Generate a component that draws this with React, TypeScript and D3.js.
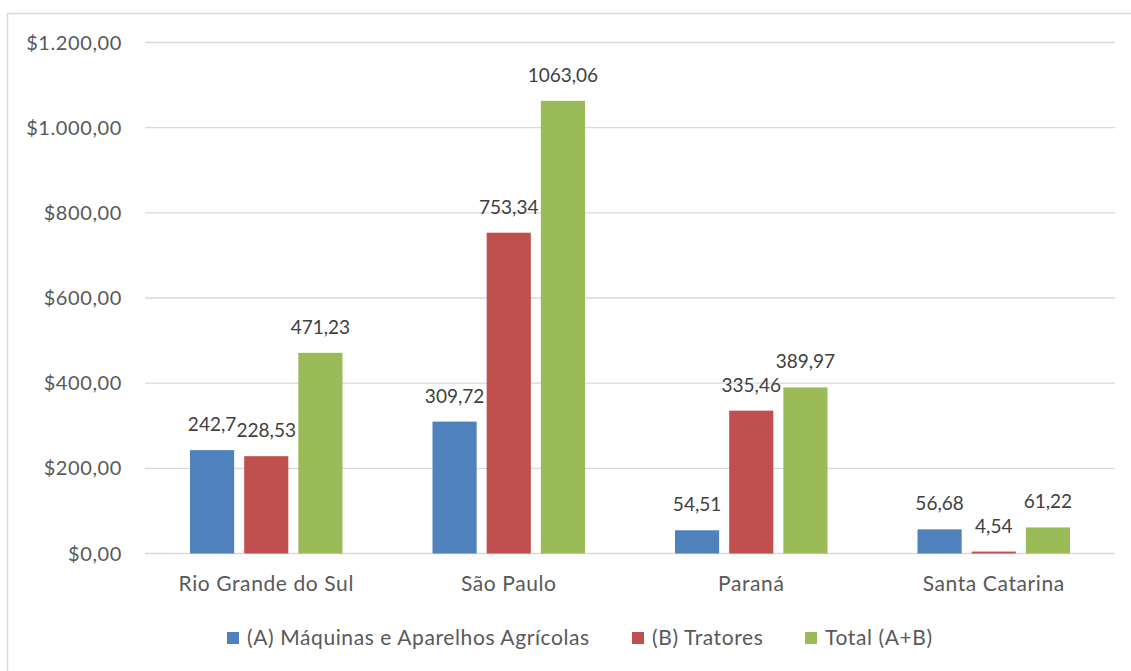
import React from "react";
import * as d3 from "d3";

const categories = ["Rio Grande do Sul", "São Paulo", "Paraná", "Santa Catarina"];
const seriesNames = ["(A) Máquinas e Aparelhos Agrícolas", "(B) Tratores", "Total (A+B)"];
const seriesA = [242.7, 309.72, 54.51, 56.68];
const seriesB = [228.53, 753.34, 335.46, 4.54];
const seriesTotal = [471.23, 1063.06, 389.97, 61.22];
const seriesLabelsA = ["242,7", "309,72", "54,51", "56,68"];
const seriesLabelsB = ["228,53", "753,34", "335,46", "4,54"];
const seriesLabelsTotal = ["471,23", "1063,06", "389,97", "61,22"];
const yTicks = [0, 200, 400, 600, 800, 1000, 1200];
const yTickLabels = ["$0,00", "$200,00", "$400,00", "$600,00", "$800,00", "$1.000,00", "$1.200,00"];
const colors = ["#4F81BD", "#C0504D", "#9BBB59"];

const W = 1131;
const H = 671;
const left = 145;
const right = 1115;
const top = 42.5;
const bottom = 553.5;
const font = "Lato, 'Open Sans', sans-serif";
const textColor = "#595959";

export default function App() {
  const values = [seriesA, seriesB, seriesTotal];
  const labels = [seriesLabelsA, seriesLabelsB, seriesLabelsTotal];
  const x = d3.scaleBand<string>().domain(categories).range([left, right]).paddingInner(0).paddingOuter(0);
  const y = d3.scaleLinear().domain([0, 1200]).range([bottom, top]);
  const bw = x.bandwidth();
  const inner = d3
    .scaleBand<string>()
    .domain(seriesNames)
    .range([45, bw - 45])
    .paddingInner(0.185)
    .paddingOuter(0);

  const legendX = [227, 632, 805];

  return (
    <svg width={W} height={H} style={{ position: "absolute", left: 0, top: 0, background: "#fff" }}>
      <rect x={7.5} y={13.5} width={W} height={H} fill="#fff" stroke="#D9D9D9" strokeWidth={1.5} />
      {yTicks.map((t, i) => (
        <g key={t}>
          <line x1={left} x2={right} y1={y(t)} y2={y(t)} stroke="#D9D9D9" strokeWidth={1.3} />
          <text
            x={122}
            y={y(t)}
            dy="0.35em"
            textAnchor="end"
            fontFamily={font}
            fontSize={20}
            letterSpacing={0.6}
            fill={textColor}
          >
            {yTickLabels[i]}
          </text>
        </g>
      ))}
      {categories.map((c, ci) => (
        <g key={c}>
          {seriesNames.map((s, si) => {
            const bx = (x(c) as number) + (inner(s) as number);
            const v = values[si][ci];
            return (
              <g key={s}>
                <rect x={bx} y={y(v)} width={inner.bandwidth()} height={y(0) - y(v)} fill={colors[si]} />
                <text
                  x={bx + inner.bandwidth() / 2}
                  y={y(v) - 19}
                  textAnchor="middle"
                  fontFamily={font}
                  fontSize={19}
                  fill="#404040"
                >
                  {labels[si][ci]}
                </text>
              </g>
            );
          })}
          <text
            x={(x(c) as number) + bw / 2}
            y={591}
            textAnchor="middle"
            fontFamily={font}
            fontSize={21}
            letterSpacing={0.6}
            fill={textColor}
          >
            {c}
          </text>
        </g>
      ))}
      {seriesNames.map((s, i) => (
        <g key={s}>
          <rect x={legendX[i]} y={632} width={12} height={12} fill={colors[i]} />
          <text x={legendX[i] + 20} y={645} fontFamily={font} fontSize={21} letterSpacing={0.6} fill={textColor}>
            {s}
          </text>
        </g>
      ))}
    </svg>
  );
}
